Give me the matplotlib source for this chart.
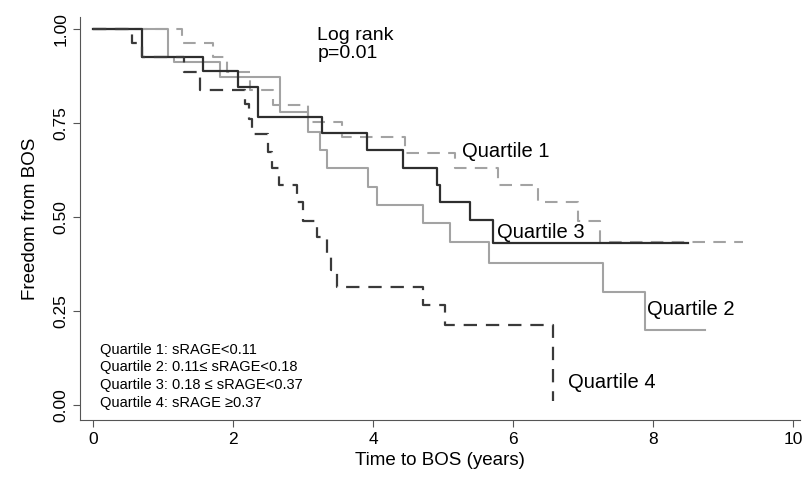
"""Kaplan-Meier style freedom-from-BOS curves by sRAGE quartile."""

import matplotlib

matplotlib.use("Agg")
import matplotlib.pyplot as plt

plt.rcParams["font.family"] = ["Liberation Sans", "DejaVu Sans"]

# step times (years) and survival after each step; last entry = end of follow-up
Q1_T = [0, 1.27, 1.71, 1.91, 2.24, 2.57, 3.07, 3.56, 4.46, 5.17, 5.79, 6.36, 6.93, 7.24, 9.29]
Q1_S = [1.0, 0.963, 0.926, 0.886, 0.838, 0.798, 0.753, 0.713, 0.67, 0.63, 0.585, 0.54, 0.489, 0.434, 0.434]

Q2_T = [0, 1.07, 1.15, 1.81, 2.67, 3.07, 3.24, 3.34, 3.93, 4.06, 4.71, 5.10, 5.66, 7.29, 7.89, 8.74]
Q2_S = [1.0, 0.925, 0.912, 0.872, 0.78, 0.726, 0.678, 0.63, 0.58, 0.532, 0.484, 0.434, 0.378, 0.30, 0.20, 0.20]

Q3_T = [0, 0.70, 1.57, 2.07, 2.36, 3.27, 3.91, 4.43, 4.91, 4.95, 5.39, 5.71, 8.50]
Q3_S = [1.0, 0.925, 0.888, 0.846, 0.766, 0.723, 0.678, 0.63, 0.585, 0.54, 0.492, 0.431, 0.431]

Q4_T = [0, 0.55, 0.70, 1.29, 1.53, 2.17, 2.22, 2.27, 2.50, 2.55, 2.65, 2.91, 3.00,
        3.20, 3.34, 3.40, 3.49, 4.71, 5.03, 6.57]
Q4_S = [1.0, 0.963, 0.925, 0.886, 0.838, 0.80, 0.76, 0.72, 0.672, 0.63, 0.585, 0.54, 0.49,
        0.447, 0.40, 0.36, 0.314, 0.266, 0.213, 0.01]

X_TICKS = [0, 2, 4, 6, 8, 10]
Y_TICKS = [0.0, 0.25, 0.50, 0.75, 1.00]

LEGEND_LINES = [
    "Quartile 1: sRAGE<0.11",
    "Quartile 2: 0.11\u2264 sRAGE<0.18",
    "Quartile 3: 0.18 \u2264 sRAGE<0.37",
    "Quartile 4: sRAGE \u22650.37",
]

LIGHT = "#a3a3a3"
DARK = "#2e2e2e"

fig = plt.figure(figsize=(8.04, 4.79), dpi=100)
ax = fig.add_axes([0.0995, 0.123, 0.8955, 0.8415])

ax.step(Q1_T, Q1_S, where="post", color=LIGHT, lw=1.5, ls=(0, (6, 4)))
ax.step(Q2_T, Q2_S, where="post", color=LIGHT, lw=1.5)
ax.step(Q3_T, Q3_S, where="post", color=DARK, lw=1.6)
ax.step(Q4_T, Q4_S, where="post", color="#3a3a3a", lw=1.6, ls=(0, (6, 4)))

ax.set_xlim(-0.19, 10.1)
ax.set_ylim(-0.04, 1.032)
ax.set_xticks(X_TICKS)
ax.set_yticks(Y_TICKS)
ax.set_yticklabels([f"{v:.2f}" for v in Y_TICKS], rotation=90, va="center")
ax.tick_params(labelsize=12.5, length=5, color="#555555")
for side in ("top", "right"):
    ax.spines[side].set_visible(False)
for side in ("left", "bottom"):
    ax.spines[side].set_color("#555555")

ax.set_xlabel("Time to BOS (years)", fontsize=13.5, labelpad=4)
ax.set_ylabel("Freedom from BOS", fontsize=13.5, labelpad=10)

ax.text(3.2, 1.005, "Log rank\np=0.01", fontsize=14, va="top", ha="left", linespacing=1.1)
ax.text(5.27, 0.673, "Quartile 1", fontsize=14.5, va="center")
ax.text(5.77, 0.46, "Quartile 3", fontsize=14.5, va="center")
ax.text(7.91, 0.253, "Quartile 2", fontsize=14.5, va="center")
ax.text(6.79, 0.061, "Quartile 4", fontsize=14.5, va="center")

for i, line in enumerate(LEGEND_LINES):
    ax.text(0.1, 0.147 - i * 0.047, line, fontsize=10.5, va="center", ha="left")

fig.savefig("out.png", dpi=100)
